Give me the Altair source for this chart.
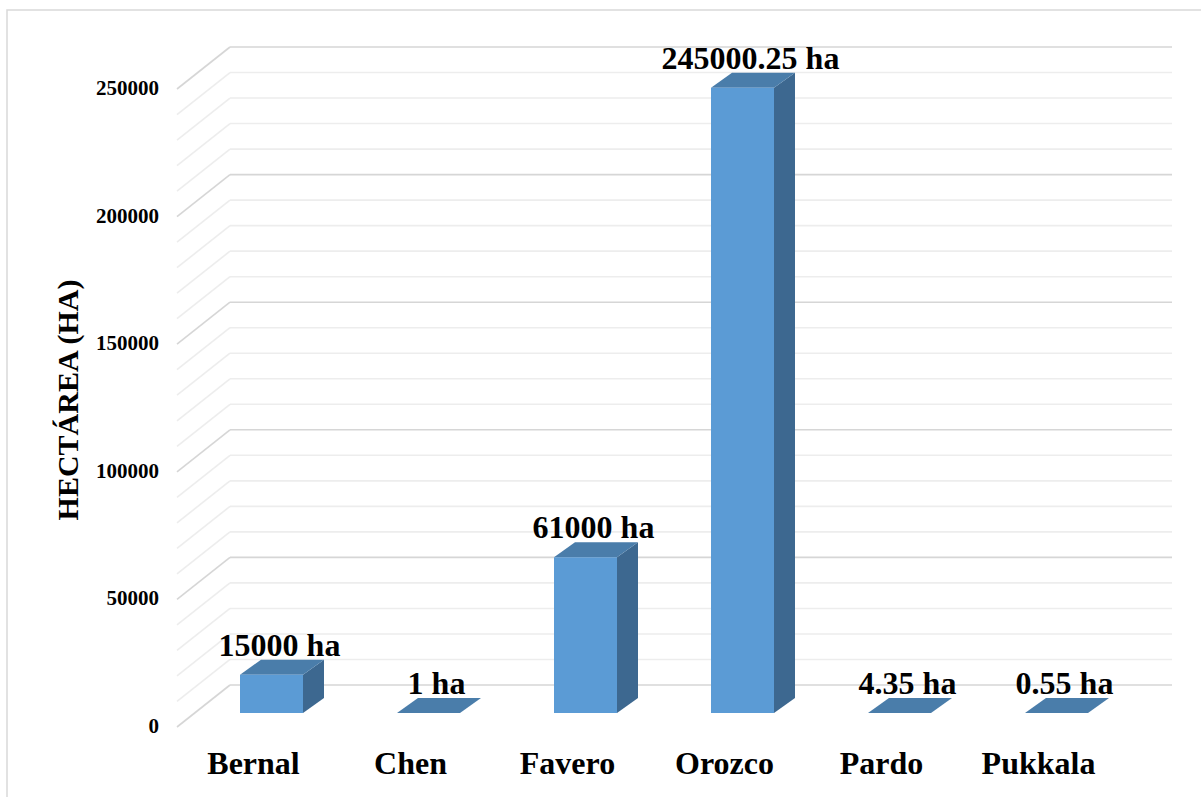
import altair as alt
import pandas as pd

# ---------------- data ----------------
categories = ["Bernal", "Chen", "Favero", "Orozco", "Pardo", "Pukkala"]
values = [15000, 1, 61000, 245000.25, 4.35, 0.55]
value_labels = ["15000 ha", "1 ha", "61000 ha", "245000.25 ha", "4.35 ha", "0.55 ha"]
tick_values = [0, 50000, 100000, 150000, 200000, 250000]
tick_labels = ["0", "50000", "100000", "150000", "200000", "250000"]
minor_step = 10000
y_title = "HECTÁREA (HA)"

# ---------------- layout / style constants ----------------
W, H = 1201, 797
CAT_PX = 157.0          # pixels per category
X0_PX = 271.5           # pixel of first category centre (bar front plane)
Y0_PX = 713.0           # pixel of value 0 (bar front plane)
VAL_PX = 127.6 / 50000  # pixels per unit of value

FRONT = (-16, -14)      # front (axis) plane offset from bar plane, px (right, up)
BACK = (37, 28)         # back wall offset from bar plane, px (right, up)
DEPTH = (21, 15)        # bar depth, px (right, up)
HALF = 31.5             # half bar width, px

FRONT_C = "#5B9BD5"
TOP_C = "#4A7DAA"
SIDE_C = "#3D6890"
FONT = "Liberation Serif"


def cx(px):
    return px / CAT_PX


def vy(px):
    return px / VAL_PX


xs = alt.Scale(domain=[-X0_PX / CAT_PX, (W - X0_PX) / CAT_PX], nice=False, zero=False)
ys = alt.Scale(domain=[-(H - Y0_PX) / VAL_PX, Y0_PX / VAL_PX], nice=False, zero=False)


def X(f):
    return alt.X(f, type="quantitative", scale=xs, axis=None)


def Y(f):
    return alt.Y(f, type="quantitative", scale=ys, axis=None)


n = len(categories)
left_edge, right_edge = -0.5, n - 0.5

# ---------------- grid (back wall + left wall) ----------------
grid_rows = []
g = 0
while g <= max(tick_values):
    major = (g % 50000 == 0)
    grid_rows.append(dict(x1=left_edge + cx(BACK[0]), x2=right_edge + cx(BACK[0]),
                          y1=g + vy(BACK[1]), y2=g + vy(BACK[1]), major=major))
    grid_rows.append(dict(x1=left_edge + cx(FRONT[0]), x2=left_edge + cx(BACK[0]),
                          y1=g + vy(FRONT[1]), y2=g + vy(BACK[1]), major=major))
    g += minor_step
grid_df = pd.DataFrame(grid_rows)

grid = alt.Chart(grid_df).mark_rule(strokeWidth=1.6).encode(
    x=X("x1"), x2="x2", y=Y("y1"), y2="y2",
    color=alt.Color("major:N", scale=alt.Scale(domain=[True, False], range=["#D6D6D6", "#EDEDED"]), legend=None),
)

# ---------------- bars ----------------
bars_df = pd.DataFrame({"cat": categories, "v": values, "lab": value_labels})
bars_df["i"] = range(n)
bars_df["xl"] = bars_df["i"] - cx(HALF)
bars_df["xr"] = bars_df["i"] + cx(HALF)
bars_df["zero"] = 0.0

front = alt.Chart(bars_df).mark_rect(color=FRONT_C).encode(
    x=X("xl"), x2="xr", y=Y("zero"), y2="v"
)

side_rows, top_rows = [], []
for i, (c, v) in enumerate(zip(categories, values)):
    xr = i + cx(HALF)
    xl = i - cx(HALF)
    side_rows.append(dict(cat=c, x=xr, lo=0.0, hi=v))
    side_rows.append(dict(cat=c, x=xr + cx(DEPTH[0]), lo=vy(DEPTH[1]), hi=v + vy(DEPTH[1])))
    top_rows.append(dict(cat=c, y=v, a=xl, b=xr))
    top_rows.append(dict(cat=c, y=v + vy(DEPTH[1]), a=xl + cx(DEPTH[0]), b=xr + cx(DEPTH[0])))

side = alt.Chart(pd.DataFrame(side_rows)).mark_area(color=SIDE_C, interpolate="linear").encode(
    x=X("x"), y=alt.Y("lo", type="quantitative", scale=ys, axis=None, stack=None), y2="hi",
    detail="cat:N",
)
top = alt.Chart(pd.DataFrame(top_rows)).mark_area(color=TOP_C, orient="horizontal", interpolate="linear").encode(
    y=Y("y"), x=alt.X("a", type="quantitative", scale=xs, axis=None, stack=None), x2="b",
    detail="cat:N",
)

# ---------------- texts ----------------
value_text = alt.Chart(bars_df).mark_text(
    font=FONT, fontWeight="bold", fontSize=32, color="black",
    align="center", baseline="alphabetic", dx=8, dy=-19,
).encode(x=X("i"), y=Y("v"), text="lab:N")

cat_text = alt.Chart(bars_df).mark_text(
    font=FONT, fontWeight="bold", fontSize=32, color="black",
    align="center", baseline="alphabetic", dx=-18, dy=61,
).encode(x=X("i"), y=Y("zero"), text="cat:N")

ticks_df = pd.DataFrame({"t": tick_values, "lab": tick_labels})
ticks_df["x"] = left_edge
tick_text = alt.Chart(ticks_df).mark_text(
    font=FONT, fontWeight="bold", fontSize=21, color="black",
    align="right", baseline="middle", dx=-34, dy=14,
).encode(x=X("x"), y=Y("t"), text="lab:N")

title_text = alt.Chart(pd.DataFrame({"t": [y_title]})).mark_text(
    font=FONT, fontWeight="bold", fontSize=30, color="black",
    align="center", baseline="middle", angle=270,
).encode(x=alt.value(69), y=alt.value(400), text="t:N")

border = alt.Chart(pd.DataFrame({"a": [0]})).mark_rect(
    fill=None, fillOpacity=0, stroke="#D9D9D9", strokeWidth=1.5
).encode(x=alt.value(7), x2=alt.value(1300), y=alt.value(10), y2=alt.value(900))

chart = alt.layer(
    grid, side, top, front, value_text, cat_text, tick_text, title_text, border
).properties(
    width=W, height=H, padding=0, autosize=alt.AutoSizeParams(type="none"),
    background="white",
).configure_view(stroke=None)

chart.save("out.html", embed_options={"renderer": "svg", "actions": False})
